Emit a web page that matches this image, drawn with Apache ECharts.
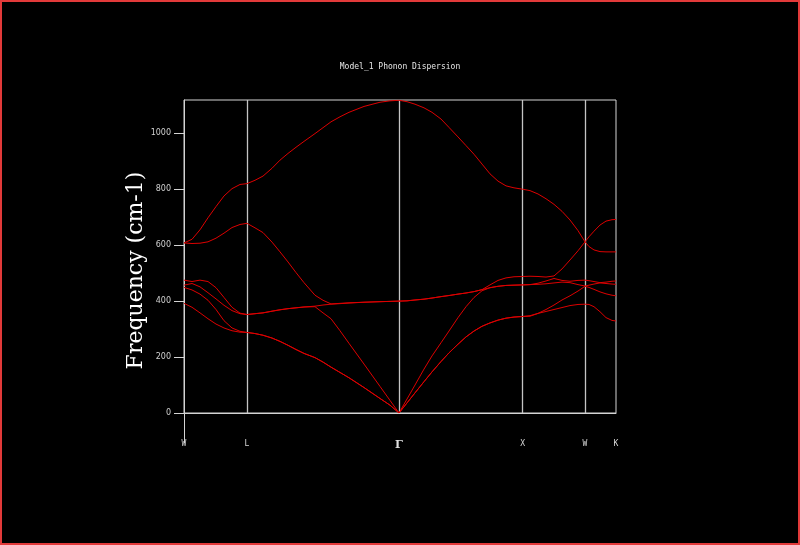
<!DOCTYPE html>
<html>
<head>
<meta charset="utf-8">
<script src="https://cdn.jsdelivr.net/npm/echarts@6/dist/echarts.min.js"></script>
<style>
html,body{margin:0;padding:0;background:#000;}
#chart{width:800px;height:545px;}
</style>
</head>
<body>
<div id="chart"></div>
<script>
// High-symmetry points along the path (distance units) and their labels
const kTicks = [0, 63, 215, 338.7, 401, 432];
const kLabels = ['W', 'L', 'Γ', 'X', 'W', 'K'];
const yTicks = [0, 200, 400, 600, 800, 1000];

// Sample positions along the path
const kDist = [
  0, 8, 16, 24, 32, 40, 48, 56, 63,
  71, 79, 88, 96, 104, 112, 120, 131, 139, 147, 156, 165, 180, 196, 206, 215,
  223, 231, 240, 248, 257, 265, 274, 282, 290, 298, 306, 314, 322, 330, 338.7,
  346, 354, 362, 370, 378, 386, 394, 401,
  405, 410, 416, 422, 428, 432
];

// Phonon bands (cm-1), sorted by frequency
const band1 = [
  392, 378, 358, 337, 318, 304, 294, 289, 288,
  284, 278, 268, 256, 242, 227, 213, 198, 182, 164, 145, 126, 91, 52, 28, 0,
  36, 72, 112, 147, 184, 215, 246, 272, 293, 310, 322, 332, 339, 343, 345,
  346, 356, 363, 370, 377, 384, 388, 389,
  388, 380, 362, 341, 331, 329
];
const band2 = [
  449, 440, 425, 403, 370, 330, 304, 292, 288,
  284, 278, 268, 256, 242, 227, 213, 198, 182, 164, 145, 126, 91, 52, 28, 0,
  36, 72, 112, 147, 184, 215, 246, 272, 293, 310, 322, 332, 339, 343, 345,
  348, 356, 370, 386, 404, 419, 436, 453,
  449, 442, 433, 426, 421, 419
];
const band3 = [
  457, 463, 451, 430, 408, 385, 366, 355, 352,
  355, 358, 364, 369, 373, 376, 379, 380, 358, 337, 294, 249, 175, 95, 45, 0,
  50, 100, 157, 204, 251, 293, 341, 380, 413, 437, 448, 453, 456, 457, 458,
  459, 460, 462, 465, 468, 466, 459, 454,
  457, 461, 465, 463, 461, 460
];
const band4 = [
  475, 470, 475, 470, 448, 413, 378, 357, 352,
  355, 358, 364, 369, 373, 376, 379, 382, 386, 389, 391, 393, 396, 398, 399, 400,
  401, 404, 407, 411, 416, 420, 425, 429, 434, 441, 448, 453, 456, 457, 458,
  459, 464, 472, 481, 474, 471, 474, 475,
  473, 470, 466, 468, 471, 472
];
const band5 = [
  608, 606, 607, 612, 625, 643, 663, 674, 678,
  662, 645, 611, 576, 540, 502, 466, 421, 403, 390, 392, 394, 396, 398, 399, 400,
  401, 404, 407, 411, 416, 420, 425, 429, 434, 441, 458, 474, 483, 487, 488,
  489, 488, 486, 490, 515, 547, 580, 612,
  595, 583, 577, 576, 576, 576
];
const band6 = [
  608, 621, 655, 698, 738, 776, 802, 817, 820,
  832, 847, 875, 904, 928, 950, 971, 999, 1020, 1041, 1059, 1075, 1096, 1111, 1116, 1118,
  1113, 1104, 1091, 1075, 1051, 1021, 987, 956, 925, 890, 855, 829, 812, 805, 800,
  795, 783, 766, 746, 721, 690, 652, 612,
  630, 650, 672, 686, 691, 692
];

const bands = [band1, band2, band3, band4, band5, band6];
const axisColor = '#d4d4d4';
const lineColor = '#dd0000';

const chart = echarts.init(document.getElementById('chart'), null, {renderer: 'canvas'});

const series = bands.map((b, bi) => ({
  type: 'line',
  name: 'band' + (bi + 1),
  data: kDist.map((x, i) => [x, b[i]]),
  showSymbol: false,
  symbol: 'none',
  smooth: false,
  lineStyle: {color: lineColor, width: 1},
  z: 3,
  markLine: bi === 0 ? {
    silent: true,
    symbol: ['none', 'none'],
    label: {show: false},
    lineStyle: {color: '#c4c4c4', type: 'solid', width: 1.3},
    data: kTicks.slice(1, kTicks.length - 1).map(v => ({xAxis: v})),
    z: 2
  } : undefined
}));

function labelFor(v) {
  let best = 0, bd = Infinity;
  kTicks.forEach((t, i) => { const d = Math.abs(t - v); if (d < bd) { bd = d; best = i; } });
  const s = kLabels[best];
  return s === 'Γ' ? '{g|' + s + '}' : s;
}

chart.setOption({
  backgroundColor: '#000',
  animation: false,
  title: {
    text: 'Model_1 Phonon Dispersion',
    left: 'center',
    top: 58,
    textStyle: {color: '#e6e6e6', fontSize: 8, fontWeight: 'normal', fontFamily: 'DejaVu Sans Mono'}
  },
  grid: {
    left: 184, right: 184, top: 100, bottom: 132,
    show: true, borderColor: axisColor, borderWidth: 1, backgroundColor: 'transparent'
  },
  xAxis: {
    type: 'value',
    min: kTicks[0],
    max: kTicks[kTicks.length - 1],
    axisLine: {show: true, lineStyle: {color: axisColor, width: 1}},
    axisTick: {show: true, customValues: [kTicks[0]], length: 30, inside: false, lineStyle: {color: axisColor, width: 1}},
    splitLine: {show: false},
    axisLabel: {
      customValues: kTicks,
      margin: 27,
      color: '#d8d8d8',
      fontSize: 8,
      fontFamily: 'DejaVu Sans Mono',
      formatter: labelFor,
      rich: {g: {fontSize: 11, fontWeight: 'bold', color: '#e0e0e0', fontFamily: 'DejaVu Serif'}}
    }
  },
  yAxis: {
    type: 'value',
    min: 0,
    max: 1119,
    name: 'Frequency (cm-1)',
    nameLocation: 'middle',
    nameRotate: 90,
    nameGap: 37,
    nameMoveOverlap: false,
    nameTextStyle: {color: '#ffffff', fontSize: 22, fontFamily: 'DejaVu Serif', padding: [0, 28, 0, 0]},
    axisLine: {show: true, lineStyle: {color: axisColor, width: 1}},
    axisTick: {show: true, customValues: yTicks, length: 10, lineStyle: {color: axisColor, width: 1}},
    splitLine: {show: false},
    axisLabel: {
      customValues: yTicks,
      margin: 13,
      color: '#d0d0d0',
      fontSize: 8,
      fontFamily: 'DejaVu Sans',
      formatter: v => String(v)
    }
  },
  graphic: [{
    type: 'rect',
    shape: {x: 1, y: 1, width: 798, height: 543},
    style: {fill: 'none', stroke: '#e23a3a', lineWidth: 2},
    silent: true
  }],
  series: series
});
</script>
</body>
</html>
